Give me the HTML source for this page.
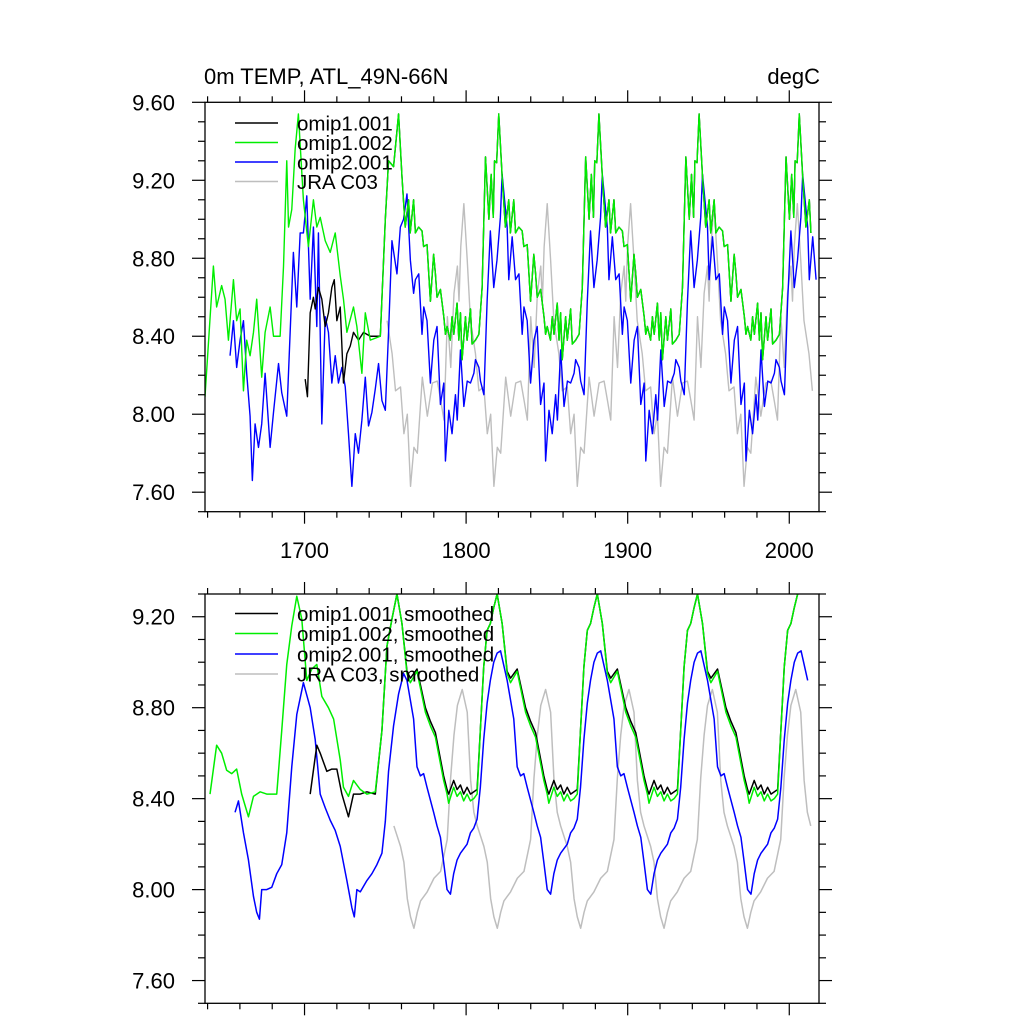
<!DOCTYPE html>
<html><head><meta charset="utf-8"><title>0m TEMP, ATL_49N-66N</title>
<style>
html,body{margin:0;padding:0;background:#fff;}
svg{display:block;font-family:"Liberation Sans",Arial,sans-serif;}
</style></head>
<body>
<svg id="chart" width="1024" height="1024" viewBox="0 0 1024 1024" xmlns="http://www.w3.org/2000/svg">
<defs>
<clipPath id="clipTop"><rect x="205" y="102.3" width="614" height="409.4"/></clipPath>
<clipPath id="clipBot"><rect x="205" y="594" width="614" height="409.3"/></clipPath>
</defs>
<g id="topPanel"></g>
<g id="botPanel"></g>
<text x="204" y="84" font-size="22">0m TEMP, ATL_49N-66N</text>
<text x="820" y="84" font-size="22" text-anchor="end">degC</text>
</svg>
<script>
// ---------- DATA (top panel: raw) ----------
const greenTopSpinYears = [1638.4,1643.6,1645.6,1648.7,1650.8,1652.9,1656.0,1658.0,1660.1,1662.2,1664.2,1666.3,1668.4,1670.4,1673.5,1675.6,1678.7,1680.8,1684.9,1687.0,1689.0,1690.1,1692.1,1694.2,1696.2,1699.3,1702.4,1705.5,1707.6,1709.7,1712.8,1715.9,1719.0,1722.1,1724.1,1726.2,1730.3,1732.4,1735.5,1737.6,1740.7,1746.9,1750.0,1752.0,1755.1];
const greenTopSpinVals = [8.09,8.76,8.55,8.66,8.59,8.38,8.69,8.48,8.54,8.12,8.38,8.30,8.42,8.59,8.19,8.42,8.55,8.40,8.40,8.76,9.30,8.96,9.05,9.36,9.54,9.10,8.86,9.10,8.96,9.01,8.89,8.83,8.93,8.71,8.59,8.42,8.55,8.45,8.21,8.52,8.38,8.40,9.00,9.30,9.27];
const blackTopSpinYears = [1700.4,1701.8,1703.5,1705.5,1706.6,1708.6,1710.7,1712.8,1714.8,1716.9,1718.4,1720.0,1722.1,1724.1,1726.2,1728.3,1730.3,1733.4,1736.5,1740.7,1746.9,1750.0,1752.0,1755.1];
const blackTopSpinVals = [8.18,8.09,8.52,8.60,8.54,8.65,8.59,8.45,8.52,8.65,8.69,8.48,8.55,8.16,8.31,8.35,8.42,8.38,8.42,8.40,8.40,9.00,9.30,9.27];
const blueTopSpinYears = [1653.9,1656.0,1658.0,1660.1,1662.2,1664.2,1666.3,1667.7,1669.4,1671.5,1673.5,1675.6,1678.7,1680.8,1683.9,1685.9,1689.0,1691.1,1693.1,1695.2,1697.3,1699.3,1701.4,1703.5,1705.5,1707.6,1708.6,1710.7,1712.8,1714.8,1716.9,1719.0,1721.0,1723.1,1725.2,1727.2,1729.3,1731.4,1733.4,1735.5,1737.6,1739.6,1741.7,1743.8,1745.8,1747.9,1750.0,1752.0,1754.1,1757.2,1759.3,1761.3,1763.4,1765.5,1767.5];
const blueTopSpinVals = [8.30,8.48,8.24,8.38,8.48,8.21,7.99,7.66,7.95,7.83,7.95,8.21,7.83,8.01,8.26,8.11,7.99,8.42,8.83,8.55,8.93,8.93,9.12,8.59,8.96,8.45,8.93,7.95,8.50,8.42,8.16,8.30,8.16,8.24,8.14,7.90,7.63,7.90,7.80,7.97,8.19,7.94,8.01,8.13,8.26,8.07,8.02,8.42,8.89,8.72,8.96,9.00,9.13,8.79,8.62];
// one forcing cycle (years after cycle peak)
const greenTopCycleT = [0,2.1,4.1,6.2,7.2,9.3,10.4,12.4,14.5,15.5,17.6,19.7,21.7,22.8,23.8,25.9,28.0,29.0,30.0,32.0,33.1,34.2,36.2,37.3,38.3,39.3,41.4,42.4,44.5,45.5,47.6,49.7,51.7,53.8,55.9,57.3,58.6,59.4,60.7];
const greenTopCycleV = [9.54,9.22,8.96,9.10,8.93,9.10,8.93,8.96,8.94,8.86,8.87,8.58,8.82,8.72,8.60,8.64,8.50,8.41,8.45,8.38,8.50,8.41,8.57,8.38,8.52,8.28,8.50,8.38,8.54,8.36,8.38,8.41,8.65,9.32,9.00,9.23,9.01,9.30,9.29];
const greenTopPeaks = [1758.2,1820.2,1882.2,1944.2,2006.2];
const blueTopCycleT = [0,3.1,4.1,6.2,8.3,10.4,12.4,13.5,15.5,17.6,19.7,21.7,23.8,25.9,26.9,29.0,31.0,33.1,34.2,36.2,38.3,40.4,42.4,44.5,45.5,47.6,48.6,50.7,52.7,54.7,56.8,58.8,60.9];
const blueTopCycleV = [9.23,8.96,8.69,8.91,8.69,8.72,8.41,8.55,8.48,8.16,8.38,8.45,8.05,8.16,7.76,8.02,7.90,8.10,7.97,8.33,8.04,8.17,8.16,8.21,8.28,8.24,8.17,8.10,8.58,8.94,8.65,8.79,9.01];
const blueTopPeaks = [1760.3,1822.3,1884.3,1946.3,2008.3];
const grayTopCycleT = [0,2.1,4.1,7.2,9.3,12.4,14.5,16.6,18.6,20.7,22.8,25.9,29.0,32.1,35.2,37.3,39.3,41.4,43.5,45.5,47.6,48.6,49.7];
const grayTopCycleV = [9.08,8.79,8.48,8.31,8.12,8.14,7.90,8.00,7.63,7.83,7.80,8.19,7.99,8.16,8.17,8.07,7.97,8.50,8.24,8.62,8.76,8.58,8.86];
const grayTopPeaks = [1747.0,1798.6,1850.2,1901.8,1953.4,2005.0];

// ---------- DATA (bottom panel: smoothed) ----------
const greenBotSpinYears = [1641.5,1645.6,1648.7,1651.8,1654.9,1658.0,1661.1,1665.3,1668.4,1672.5,1676.6,1682.8,1685.9,1689.0,1692.1,1695.2,1698.3,1701.4,1704.5,1707.6,1710.7,1714.8,1718.0,1722.1,1724.1,1727.2,1730.3,1734.5,1738.6,1743.8,1747.9,1751.0,1754.1];
const greenBotSpinVals = [8.42,8.635,8.60,8.525,8.51,8.53,8.42,8.32,8.41,8.43,8.42,8.42,8.70,8.99,9.16,9.29,9.19,8.92,8.97,8.99,8.85,8.80,8.75,8.57,8.45,8.41,8.48,8.44,8.42,8.43,8.70,9.07,9.19];
const blackBotSpinYears = [1703.5,1707.6,1709.7,1713.8,1716.9,1720.0,1723.1,1727.2,1730.3,1734.5,1738.6,1743.8,1747.9,1751.0,1754.1];
const blackBotSpinVals = [8.42,8.635,8.60,8.52,8.53,8.53,8.42,8.32,8.42,8.42,8.43,8.42,8.70,9.07,9.19];
const blueBotSpinYears = [1657.0,1659.1,1662.2,1665.3,1668.4,1670.4,1672.1,1673.5,1676.6,1679.7,1682.8,1685.9,1689.0,1692.1,1695.2,1699.3,1703.5,1706.6,1709.7,1712.8,1715.9,1719.0,1722.1,1726.2,1729.3,1730.8,1732.4,1734.5,1738.6,1741.7,1744.8,1747.9,1750.0,1752.0,1755.1,1758.2,1761.3];
const blueBotSpinVals = [8.34,8.39,8.25,8.13,7.97,7.90,7.87,8.00,8.00,8.01,8.07,8.11,8.25,8.54,8.77,8.91,8.80,8.66,8.42,8.36,8.305,8.26,8.19,8.04,7.92,7.88,8.00,7.99,8.04,8.07,8.11,8.16,8.30,8.52,8.72,8.86,8.95];
const greenBotCycleT = [0,3.1,6.2,8.3,12.4,17.6,20.7,23.8,28.9,31.0,32.0,35.1,37.2,39.3,41.3,43.4,45.5,47.5,49.6,51.6,53.7,55.8,57.8,59.9];
const greenBotCycleV = [9.30,9.17,8.95,8.91,8.96,8.78,8.72,8.67,8.48,8.42,8.38,8.45,8.41,8.43,8.39,8.42,8.39,8.40,8.42,8.70,8.98,9.14,9.17,9.24];
const blackBotCycleV = [9.30,9.17,8.96,8.93,8.97,8.80,8.74,8.69,8.50,8.44,8.42,8.48,8.44,8.46,8.42,8.45,8.42,8.43,8.44,8.70,8.98,9.14,9.17,9.24];
const greenBotPeaks = [1757.2,1819.2,1881.2,1943.2,2005.2];
const blueBotCycleT = [0,2.1,6.2,10.3,12.4,14.5,16.5,18.6,22.7,24.8,26.9,28.9,31.0,33.1,35.1,37.2,39.3,43.4,45.5,47.5,49.6,51.6,53.7,55.8,57.8,59.9];
const blueBotCycleV = [9.04,9.05,8.92,8.75,8.54,8.50,8.51,8.45,8.34,8.28,8.23,8.12,8.00,7.98,8.07,8.13,8.16,8.20,8.25,8.27,8.31,8.45,8.66,8.82,8.92,9.00];
const blueBotPeaks = [1757.2,1819.2,1881.2,1943.2,2005.2];
const grayBotCycleT = [0,3.1,5.2,7.2,9.3,13.4,15.5,17.6,19.6,21.7,23.8,25.8,29.9,34.1,38.2,42.3,44.4,46.5,48.6];
const grayBotCycleV = [8.88,8.78,8.48,8.34,8.28,8.19,8.12,7.96,7.88,7.83,7.90,7.95,7.99,8.05,8.08,8.22,8.49,8.68,8.81];
const grayBotPeaks = [1746.0,1797.6,1849.2,1900.8,1952.4,2004.0];

// axis ticks
const xTickYears = [1700,1800,1900,2000];
const topYTicks = [7.60,8.00,8.40,8.80,9.20,9.60];
const botYTicks = [7.60,8.00,8.40,8.80,9.20];

// ---------- DRAWING ----------
const NS = "http://www.w3.org/2000/svg";
const X0 = 205, X1 = 819, YR0 = 1638.4, YR1 = 2018.4;
function xs(yr){ return X0 + (yr - YR0) * (X1 - X0) / (YR1 - YR0); }
const topAx = {top:102.3, bot:511.7, vmin:7.5, vmax:9.6};
const botAx = {top:594, bot:1003.3, vmin:7.5, vmax:9.3};
function ys(ax, v){ return ax.bot - (v - ax.vmin) * (ax.bot - ax.top) / (ax.vmax - ax.vmin); }
function mk(tag, attrs, parent){ const e = document.createElementNS(NS, tag); for (const k in attrs) e.setAttribute(k, attrs[k]); parent.appendChild(e); return e; }

function build(spinY, spinV, cycT, cycV, peaks, startY, endY){
  const pts = [];
  for (let i = 0; i < spinY.length; i++) pts.push([spinY[i], spinV[i]]);
  const last = spinY.length ? spinY[spinY.length-1] : startY - 0.001;
  for (const p of peaks){
    for (let i = 0; i < cycT.length; i++){
      const yr = p + cycT[i];
      if (yr > last && yr <= endY) pts.push([yr, cycV[i]]);
    }
  }
  pts.sort((a,b)=>a[0]-b[0]);
  return pts;
}

function drawAxes(g, ax, yTicks, showXLabels){
  const frame = mk('rect', {x:X0, y:ax.top, width:X1-X0, height:ax.bot-ax.top, fill:'none', stroke:'#000', 'stroke-width':1.3}, g);
  
  
  for (let k = Math.ceil(ax.vmin*10); k <= Math.floor(ax.vmax*10+1e-6); k++){
    const v = k/10, y = ys(ax, v);
    const major = yTicks.some(t => Math.abs(t - v) < 1e-6);
    const len = major ? 13 : 7;
    mk('line', {x1:X0-len, y1:y, x2:X0, y2:y, stroke:'#000', 'stroke-width':1.2}, g);
    mk('line', {x1:X1, y1:y, x2:X1+len, y2:y, stroke:'#000', 'stroke-width':1.2}, g);
  }
  for (const t of yTicks){
    const lab = mk('text', {x:175, y:ys(ax, t)+8, 'font-size':22, 'text-anchor':'end'}, g);
    lab.textContent = t.toFixed(2);
    
    
  }
  for (let yr = 1640; yr <= 2018; yr += 20){
    const x = xs(yr), major = (yr % 100 === 0);
    const len = major ? 12 : 6;
    mk('line', {x1:x, y1:ax.top-len, x2:x, y2:ax.top, stroke:'#000', 'stroke-width':1.2}, g);
    mk('line', {x1:x, y1:ax.bot, x2:x, y2:ax.bot+len, stroke:'#000', 'stroke-width':1.2}, g);
  }
  if (showXLabels){
    for (const yr of xTickYears){
      const lab = mk('text', {x:xs(yr), y:558, 'font-size':22, 'text-anchor':'middle'}, g);
      lab.textContent = String(yr);
      
      
    }
  }
}

function drawSeries(g, ax, pts, color, width, clip, name){
  const d = pts.map((p,i)=>(i?'L':'M') + xs(p[0]).toFixed(2) + ' ' + ys(ax,p[1]).toFixed(2)).join(' ');
  const path = mk('path', {d:d, fill:'none', stroke:color, 'stroke-width':width, 'stroke-linejoin':'round', 'clip-path':'url(#'+clip+')'}, g);
  
  
}

function drawLegend(g, ys0, labels, colors){
  for (let i = 0; i < labels.length; i++){
    const y = ys0[i];
    const ln = mk('line', {x1:235, y1:y, x2:278, y2:y, stroke:colors[i], 'stroke-width':1.6}, g);
    
    
    const t = mk('text', {x:297, y:y+7.5, 'font-size':20.5}, g);
    t.textContent = labels[i];
    
    
  }
}

const gT = document.getElementById('topPanel');
const gB = document.getElementById('botPanel');

drawSeries(gT, topAx, build([],[],grayTopCycleT,grayTopCycleV,grayTopPeaks,1750.0,2017), '#bebebe', 1.4, 'clipTop', 'jra-c03-line');
drawSeries(gT, topAx, build(blueTopSpinYears,blueTopSpinVals,blueTopCycleT,blueTopCycleV,blueTopPeaks,0,2018), '#0000ff', 1.4, 'clipTop', 'omip2-001-line');
drawSeries(gT, topAx, build(blackTopSpinYears,blackTopSpinVals,greenTopCycleT,greenTopCycleV,greenTopPeaks,0,2015), '#000000', 1.4, 'clipTop', 'omip1-001-line');
drawSeries(gT, topAx, build(greenTopSpinYears,greenTopSpinVals,greenTopCycleT,greenTopCycleV,greenTopPeaks,0,2015), '#00ee00', 1.4, 'clipTop', 'omip1-002-line');
drawAxes(gT, topAx, topYTicks, true);
drawLegend(gT, [123,142.5,162,181.5], ['omip1.001','omip1.002','omip2.001','JRA C03'], ['#000','#00ee00','#0000ff','#bebebe']);

drawSeries(gB, botAx, build([],[],grayBotCycleT,grayBotCycleV,grayBotPeaks,1754.0,2014.5), '#bebebe', 1.5, 'clipBot', 'jra-c03-smoothed-line');
drawSeries(gB, botAx, build(blueBotSpinYears,blueBotSpinVals,blueBotCycleT,blueBotCycleV,blueBotPeaks,0,2014.5), '#0000ff', 1.5, 'clipBot', 'omip2-001-smoothed-line');
drawSeries(gB, botAx, build(blackBotSpinYears,blackBotSpinVals,greenBotCycleT,blackBotCycleV,greenBotPeaks,0,2007.3), '#000000', 1.5, 'clipBot', 'omip1-001-smoothed-line');
drawSeries(gB, botAx, build(greenBotSpinYears,greenBotSpinVals,greenBotCycleT,greenBotCycleV,greenBotPeaks,0,2007.3), '#00ee00', 1.5, 'clipBot', 'omip1-002-smoothed-line');
drawAxes(gB, botAx, botYTicks, false);
drawLegend(gB, [613.5,633.5,654,674], ['omip1.001, smoothed','omip1.002, smoothed','omip2.001, smoothed','JRA C03, smoothed'], ['#000','#00ee00','#0000ff','#bebebe']);
</script>
</body></html>
